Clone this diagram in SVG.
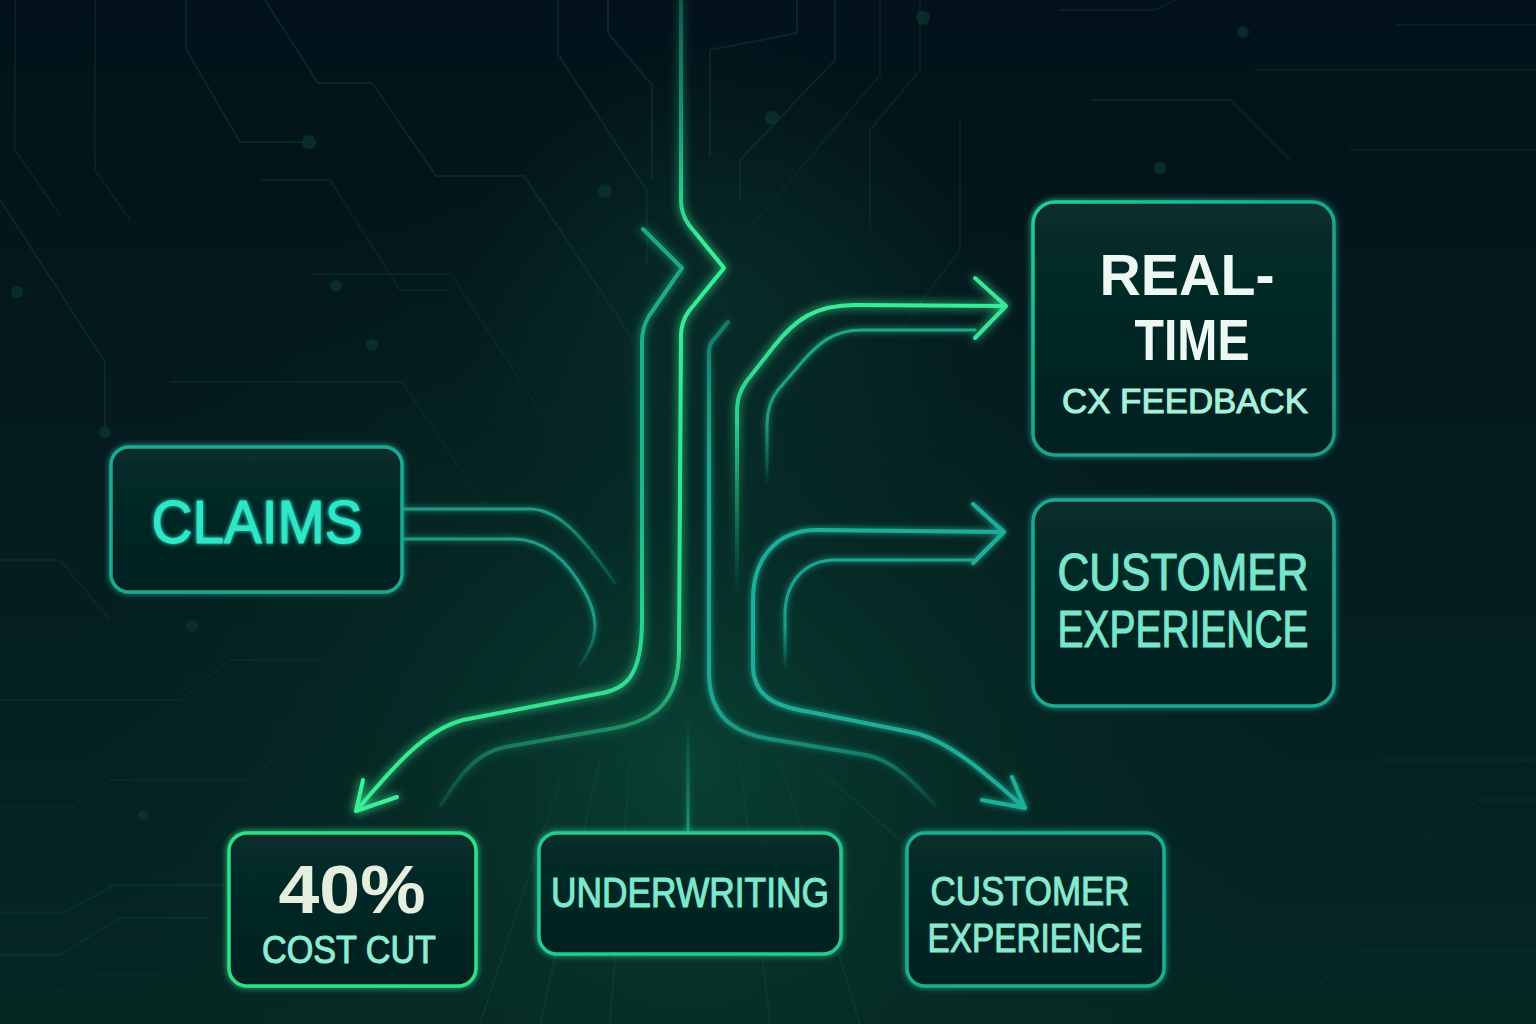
<svg xmlns="http://www.w3.org/2000/svg" width="1536" height="1024" viewBox="0 0 1536 1024">
<defs>
<linearGradient id="bg" x1="0" y1="0" x2="0" y2="1">
<stop offset="0" stop-color="#03121a"/>
<stop offset="0.5" stop-color="#041c1f"/>
<stop offset="1" stop-color="#052823"/>
</linearGradient>
<radialGradient id="glowbg" cx="690" cy="760" r="620" gradientUnits="userSpaceOnUse">
<stop offset="0" stop-color="#0a4a3a" stop-opacity="0.75"/>
<stop offset="0.5" stop-color="#073228" stop-opacity="0.45"/>
<stop offset="1" stop-color="#052823" stop-opacity="0"/>
</radialGradient>
<radialGradient id="glowtop" cx="720" cy="300" r="260" gradientUnits="userSpaceOnUse">
<stop offset="0" stop-color="#0b3a30" stop-opacity="0.5"/>
<stop offset="1" stop-color="#0b3a30" stop-opacity="0"/>
</radialGradient>
<linearGradient id="boxfill" x1="0" y1="0" x2="0" y2="1">
<stop offset="0" stop-color="#072e2c"/>
<stop offset="1" stop-color="#04201f"/>
</linearGradient>
<linearGradient id="gTrunk" gradientUnits="userSpaceOnUse" x1="0" y1="0" x2="0" y2="810">
<stop offset="0" stop-color="#0f5a4a"/>
<stop offset="0.16" stop-color="#1a9a74"/>
<stop offset="0.3" stop-color="#36f09a"/>
<stop offset="0.8" stop-color="#2fe08c"/>
<stop offset="1" stop-color="#1c8a68" stop-opacity="0.2"/>
</linearGradient>
<linearGradient id="gLeft" gradientUnits="userSpaceOnUse" x1="0" y1="230" x2="0" y2="812">
<stop offset="0" stop-color="#1ca884"/>
<stop offset="0.5" stop-color="#22b888"/>
<stop offset="0.85" stop-color="#34e893"/>
<stop offset="1" stop-color="#3af09a"/>
</linearGradient>
<linearGradient id="gTealR" gradientUnits="userSpaceOnUse" x1="0" y1="320" x2="0" y2="805">
<stop offset="0" stop-color="#1a9a86" stop-opacity="0.6"/>
<stop offset="0.3" stop-color="#1ea88e"/>
<stop offset="0.8" stop-color="#1ea890"/>
<stop offset="1" stop-color="#1a9a86" stop-opacity="0.1"/>
</linearGradient>
<linearGradient id="gUp" gradientUnits="userSpaceOnUse" x1="0" y1="300" x2="0" y2="600">
<stop offset="0" stop-color="#3aee9a"/>
<stop offset="0.4" stop-color="#2ad08c"/>
<stop offset="1" stop-color="#1a8a66" stop-opacity="0"/>
</linearGradient>
<linearGradient id="gUpIn" gradientUnits="userSpaceOnUse" x1="0" y1="330" x2="0" y2="485">
<stop offset="0" stop-color="#1ea88a"/>
<stop offset="0.6" stop-color="#1a9a80"/>
<stop offset="1" stop-color="#1a9a80" stop-opacity="0"/>
</linearGradient>
<linearGradient id="gMidIn" gradientUnits="userSpaceOnUse" x1="0" y1="560" x2="0" y2="670">
<stop offset="0" stop-color="#1ea694"/>
<stop offset="0.6" stop-color="#1a9a88"/>
<stop offset="1" stop-color="#1a9a88" stop-opacity="0"/>
</linearGradient>
<linearGradient id="gClaim1" gradientUnits="userSpaceOnUse" x1="403" y1="0" x2="615" y2="0">
<stop offset="0" stop-color="#1a9c86"/>
<stop offset="0.7" stop-color="#1a9c86"/>
<stop offset="1" stop-color="#1a9c86" stop-opacity="0.2"/>
</linearGradient>
<linearGradient id="gClaim2" gradientUnits="userSpaceOnUse" x1="0" y1="539" x2="0" y2="665">
<stop offset="0" stop-color="#1a9c86"/>
<stop offset="0.6" stop-color="#1a9c86"/>
<stop offset="1" stop-color="#1a9c86" stop-opacity="0.1"/>
</linearGradient>
<linearGradient id="gUW" gradientUnits="userSpaceOnUse" x1="0" y1="715" x2="0" y2="833">
<stop offset="0" stop-color="#1a8a70" stop-opacity="0"/>
<stop offset="1" stop-color="#1fa080" stop-opacity="0.8"/>
</linearGradient>
<linearGradient id="gBoxRT" x1="0" y1="0" x2="1" y2="1">
<stop offset="0" stop-color="#22cc9c"/>
<stop offset="0.5" stop-color="#1ba48e"/>
<stop offset="1" stop-color="#1a9a88"/>
</linearGradient>
<filter id="glow" filterUnits="userSpaceOnUse" x="0" y="0" width="1536" height="1024">
<feGaussianBlur in="SourceGraphic" stdDeviation="5" result="b"/>
<feMerge><feMergeNode in="b"/><feMergeNode in="SourceGraphic"/></feMerge>
</filter>
<filter id="softglow" filterUnits="userSpaceOnUse" x="0" y="0" width="1536" height="1024">
<feGaussianBlur in="SourceGraphic" stdDeviation="3" result="b"/>
<feMerge><feMergeNode in="b"/><feMergeNode in="SourceGraphic"/></feMerge>
</filter>
<filter id="textglow" filterUnits="userSpaceOnUse" x="0" y="0" width="1536" height="1024">
<feGaussianBlur in="SourceGraphic" stdDeviation="2" result="b"/>
<feMerge><feMergeNode in="b"/><feMergeNode in="SourceGraphic"/></feMerge>
</filter>
</defs>
<style>
.trace{fill:none;stroke:#0d3834;stroke-width:2;stroke-linejoin:round;opacity:0.55}
.trace2{fill:none;stroke:#0b2f2c;stroke-width:2;stroke-linejoin:round;opacity:0.5}
.dot{fill:#0c3632;opacity:0.7}
.ray{stroke:#0f4a3c;stroke-width:2;opacity:0.4}
.conn{fill:none;stroke-width:4;stroke-linecap:round;stroke-linejoin:round}
.thin{fill:none;stroke-width:3;stroke-linecap:round;stroke-linejoin:round}
.box{fill:url(#boxfill);stroke-width:3.5}
.lbl{font-family:"Liberation Sans","Noto Sans","DejaVu Sans",sans-serif;text-anchor:middle;font-weight:400;stroke-width:1.1;stroke-linejoin:round}
.heavy{font-weight:700;stroke-width:0}
</style>

<rect width="1536" height="1024" fill="url(#bg)"/>
<rect width="1536" height="1024" fill="url(#glowbg)"/>
<rect width="1536" height="1024" fill="url(#glowtop)"/>

<g id="background-traces">
<path class="trace" d="M0,200 L105,362 L105,426"/>
<circle class="dot" cx="105" cy="432" r="6"/>
<path class="trace" d="M186,0 L186,49 L240,142 L304,142"/>
<circle class="dot" cx="309" cy="142" r="7"/>
<path class="trace" d="M265,0 L318,83 L372,83 L436,176 L524,176 L632,338"/>
<path class="trace2" d="M313,274 L451,274 L588,485"/>
<path class="trace2" d="M171,382 L402,382 L514,549"/>
<path class="trace" d="M558,0 L558,54 L647,191 L647,265"/>
<circle class="dot" cx="605" cy="191" r="7"/>
<path class="trace2" d="M15,0 L15,150 L60,215"/>
<path class="trace2" d="M95,0 L95,170 L130,220"/>
<path class="trace2" d="M0,560 L60,560 L110,620"/>
<circle class="dot" cx="17" cy="292" r="6"/>
<circle class="dot" cx="336" cy="286" r="6"/>
<circle class="dot" cx="372" cy="345" r="6"/>
<path class="trace2" d="M260,180 L330,180 L400,290 L450,290"/>
<path class="trace" d="M608,0 L608,33 L652,85 L652,180"/>
<path class="trace" d="M710,50 L710,157"/>
<path class="trace" d="M797,0 L797,33 L710,50"/>
<path class="trace" d="M835,0 L835,60 L740,160 L740,200"/>
<circle class="dot" cx="772" cy="118" r="7"/>
<path class="trace2" d="M880,0 L880,75 L740,240"/>
<path class="trace2" d="M920,0 L920,70 L870,130 L870,230"/>
<circle class="dot" cx="923" cy="18" r="7"/>
<path class="trace2" d="M960,120 L960,250 L900,330"/>
<path class="trace2" d="M1060,10 L1155,10 L1175,0"/>
<path class="trace2" d="M1255,70 L1536,70"/>
<path class="trace2" d="M1395,25 L1536,25"/>
<path class="trace2" d="M1090,100 L1230,100 L1290,160"/>
<circle class="dot" cx="1243" cy="32" r="6"/>
<circle class="dot" cx="1160" cy="168" r="6"/>
<path class="trace2" d="M1350,150 L1536,150"/>
<path class="trace2" d="M1380,760 L1536,760"/>
<path class="trace2" d="M1340,840 L1420,840 L1480,800 L1536,800"/>
<path class="trace2" d="M1200,1000 L1300,1000 L1360,950 L1536,950"/>
<path class="trace2" d="M0,700 L180,700 L230,660 L320,660"/>
<path class="trace2" d="M0,808 L70,808 L110,780 L250,780 L330,710"/>
<path class="trace" d="M0,913 L63,913 L115,885 L230,885"/>
<path class="trace" d="M0,955 L60,955 L120,918 L210,918"/>
<path class="trace2" d="M10,1010 L100,975 L160,975 L215,940"/>
<circle class="dot" cx="143" cy="815" r="5"/>
<circle class="dot" cx="192" cy="626" r="6"/>
<path class="ray" d="M600,760 L540,1024"/>
<path class="ray" d="M630,760 L610,1024"/>
<path class="ray" d="M740,760 L770,1024"/>
<path class="ray" d="M780,760 L860,1024"/>
<path class="ray" d="M560,780 L480,1024"/>
<path class="ray" d="M820,770 L900,840"/>
</g>

<g id="connectors">
<g filter="url(#glow)">
<path class="conn" stroke="url(#gTrunk)" d="M681,0 L681,200 Q681,214 689,225 L724,268 L689,311 Q681,322 681,336 L679,650 C679,702 655,720 615,728 L505,747 C475,753 458,778 441,805"/>
<path class="conn" stroke="url(#gLeft)" d="M643,229 L682,268 L649,316 Q642,327 642,342 L642,620 C642,678 625,690 597,694 L463,720 C425,730 395,765 356,811"/>
<path class="conn" stroke="#3af09a" d="M363,780 L356,811 L397,797"/>
<path class="conn" stroke="url(#gUp)" d="M1004,306 L855,305 C815,305 795,320 775,345 L746,382 C739,392 737,400 737,414 L737,600"/>
<path class="conn" stroke="#38e898" d="M975,278 L1006,306 L975,338"/>
</g>
<g filter="url(#softglow)">
<path class="thin" stroke="url(#gUpIn)" d="M975,330 L862,330 C832,330 817,345 802,362 L778,390 C770,400 767,410 767,425 L767,485"/>
<path class="conn" stroke="url(#gTealR)" d="M728,322 L711,343 Q709,347 709,352 L709,672 C709,718 735,733 770,739 L866,755 C892,760 912,780 935,805"/>
<path class="conn" stroke="#1eae98" d="M1002,532 L817,530 C775,530 753,560 753,600 L753,665 C753,698 778,707 810,712 L915,733 C952,742 990,778 1025,808"/>
<path class="conn" stroke="#1eb09a" d="M973,504 L1004,532 L973,563"/>
<path class="conn" stroke="#1eb09a" d="M982,800 L1025,808 L1012,777"/>
<path class="thin" stroke="url(#gMidIn)" d="M973,560 L835,560 C805,560 785,582 785,615 L785,670"/>
<path class="thin" stroke="url(#gClaim1)" d="M403,509 L530,509 C560,509 585,540 615,583"/>
<path class="thin" stroke="url(#gClaim2)" d="M403,539 L513,539 C548,539 570,565 585,592 C600,620 598,640 580,665"/>
<path class="thin" stroke="url(#gUW)" d="M688,715 L688,833"/>
</g>
</g>

<g id="node-claims">
<rect class="box" x="111" y="447" width="291" height="145" rx="18" stroke="#1fa892" filter="url(#softglow)"/>
<text class="lbl" x="257" y="543" font-size="62" fill="#2ee6c8" stroke="#2ee6c8" textLength="211" lengthAdjust="spacingAndGlyphs" filter="url(#textglow)">CLAIMS</text>
</g>

<g id="node-realtime">
<rect class="box" x="1033" y="202" width="301" height="253" rx="22" stroke="url(#gBoxRT)" filter="url(#softglow)"/>
<text class="lbl heavy" x="1187" y="295" font-size="58" fill="#eef8f2" textLength="175" lengthAdjust="spacingAndGlyphs">REAL-</text>
<text class="lbl heavy" x="1192" y="360" font-size="58" fill="#eef8f2" textLength="115" lengthAdjust="spacingAndGlyphs">TIME</text>
<text class="lbl" x="1185" y="413" font-size="35" fill="#a8f0dc" stroke="#a8f0dc" textLength="246" lengthAdjust="spacingAndGlyphs">CX FEEDBACK</text>
</g>

<g id="node-cx-right">
<rect class="box" x="1033" y="500" width="301" height="206" rx="22" stroke="#1ea894" filter="url(#softglow)"/>
<text class="lbl" x="1183" y="590" font-size="51" fill="#78e6cc" stroke="#78e6cc" textLength="251" lengthAdjust="spacingAndGlyphs">CUSTOMER</text>
<text class="lbl" x="1183" y="647" font-size="51" fill="#78e6cc" stroke="#78e6cc" textLength="251" lengthAdjust="spacingAndGlyphs">EXPERIENCE</text>
</g>

<g id="node-cost">
<rect class="box" x="229" y="833" width="247" height="153" rx="18" stroke="#2fe08a" filter="url(#softglow)"/>
<text class="lbl heavy" x="352" y="913" font-size="68" fill="#e6efdf" textLength="147" lengthAdjust="spacingAndGlyphs">40%</text>
<text class="lbl" x="349" y="963" font-size="39" fill="#8eecd2" stroke="#8eecd2" textLength="174" lengthAdjust="spacingAndGlyphs">COST CUT</text>
</g>

<g id="node-underwriting">
<rect class="box" x="539" y="833" width="302" height="121" rx="18" stroke="#27c98e" filter="url(#softglow)"/>
<text class="lbl" x="690" y="907" font-size="42" fill="#7de9cc" stroke="#7de9cc" textLength="278" lengthAdjust="spacingAndGlyphs">UNDERWRITING</text>
</g>

<g id="node-cx-bottom">
<rect class="box" x="907" y="833" width="257" height="153" rx="18" stroke="#1fae92" filter="url(#softglow)"/>
<text class="lbl" x="1030" y="905" font-size="41" fill="#8ae8cf" stroke="#8ae8cf" textLength="199" lengthAdjust="spacingAndGlyphs">CUSTOMER</text>
<text class="lbl" x="1035" y="952" font-size="41" fill="#8ae8cf" stroke="#8ae8cf" textLength="215" lengthAdjust="spacingAndGlyphs">EXPERIENCE</text>
</g>
</svg>
